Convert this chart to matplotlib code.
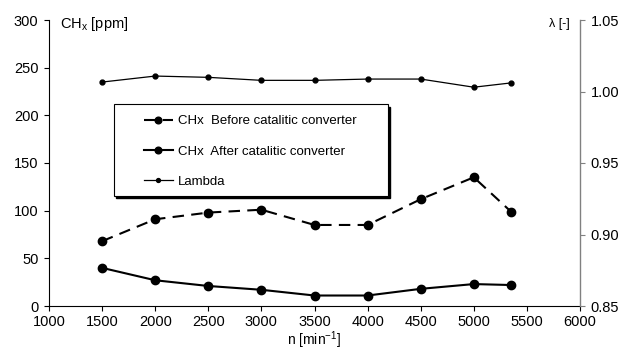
import matplotlib
matplotlib.use("Agg")
import matplotlib.pyplot as plt
from matplotlib.patches import Rectangle
from matplotlib.ticker import FormatStrFormatter
import matplotlib.transforms as mtransforms

plt.rcParams['font.family'] = ['Liberation Sans', 'DejaVu Sans']
plt.rcParams['mathtext.fontset'] = 'custom'
plt.rcParams['mathtext.rm'] = 'Liberation Sans'
plt.rcParams['mathtext.it'] = 'Liberation Sans'

# Engine speed [min^-1]
rpm = [1500, 2000, 2500, 3000, 3500, 4000, 4500, 5000, 5350]
# Hydrocarbon concentration [ppm]
chx_before = [68, 91, 98, 101, 85, 85, 112, 135, 99]
chx_after = [40, 27, 21, 17, 11, 11, 18, 23, 22]
# Excess air ratio [-]
lam = [1.0066, 1.0108, 1.0099, 1.0078, 1.0078, 1.0087, 1.0087, 1.0030, 1.0060]

x_ticks = [1000, 1500, 2000, 2500, 3000, 3500, 4000, 4500, 5000, 5500, 6000]
y_ticks = [0, 50, 100, 150, 200, 250, 300]
lam_ticks = [0.85, 0.90, 0.95, 1.00, 1.05]

fs = 10.5
fig = plt.figure(figsize=(6.2, 3.5), dpi=100)
ax = fig.add_axes([49 / 620, 44 / 350, 531 / 620, 286 / 350])
ax2 = ax.twinx()

ax.plot(rpm, chx_before, color='black', lw=1.5, ls=(0, (5.5, 3.5)),
        marker='o', ms=6, label='CHx  Before catalitic converter', zorder=3)
ax.plot(rpm, chx_after, color='black', lw=1.5,
        marker='o', ms=6, label='CHx  After catalitic converter', zorder=3)
ax2.plot(rpm, lam, color='black', lw=0.9, marker='o', ms=3.5,
         label='Lambda', zorder=3)

ax.set_xlim(1000, 6000)
ax.set_ylim(0, 300)
ax2.set_ylim(0.85, 1.05)
ax.set_xticks(x_ticks)
ax.set_yticks(y_ticks)
ax2.set_yticks(lam_ticks)
ax2.yaxis.set_major_formatter(FormatStrFormatter('%.2f'))

for a in (ax, ax2):
    a.spines['top'].set_visible(False)
    a.tick_params(direction='out', length=3.5, width=0.8, labelsize=fs,
                  pad=4, colors='black')
ax.tick_params(axis='x', pad=3)
ax2.spines['left'].set_visible(False)
ax2.spines['bottom'].set_visible(False)
ax.spines['right'].set_visible(False)
ax2.spines['right'].set_color('#808080')
ax2.spines['right'].set_linewidth(1.0)
ax2.tick_params(axis='y', color='#808080')

ax.text(0.02, 0.985, 'CH$_{\\mathrm{x}}$ [ppm]', transform=ax.transAxes,
        fontsize=fs, ha='left', va='center')
ax.text(0.98, 0.985, 'λ [-]', transform=ax.transAxes,
        fontsize=9, ha='right', va='center')
ax.set_xlabel('n [min$^{-1}$]', fontsize=10, labelpad=0)

# Legend box with a drop shadow
bx, by, bw, bh = 0.122, 0.385, 0.516, 0.321
shadow_tr = ax.transAxes + mtransforms.ScaledTranslation(2.5 / 100, -2.5 / 100,
                                                         fig.dpi_scale_trans)
ax2.add_patch(Rectangle((bx, by), bw, bh, transform=shadow_tr,
                        facecolor='black', edgecolor='black', zorder=8))
ax2.add_patch(Rectangle((bx, by), bw, bh, transform=ax.transAxes,
                        facecolor='white', edgecolor='black', lw=0.8, zorder=9))

handles = ax.get_lines() + ax2.get_lines()
leg = ax2.legend(handles, [h.get_label() for h in handles],
                 loc='upper left', bbox_to_anchor=(0.178, 0.667),
                 frameon=False, fontsize=9.5, borderpad=0, borderaxespad=0,
                 handlelength=2.2, handletextpad=0.4, labelspacing=1.35,
                 markerscale=0.8)
leg.set_zorder(10)

fig.savefig('out.png', dpi=100)
